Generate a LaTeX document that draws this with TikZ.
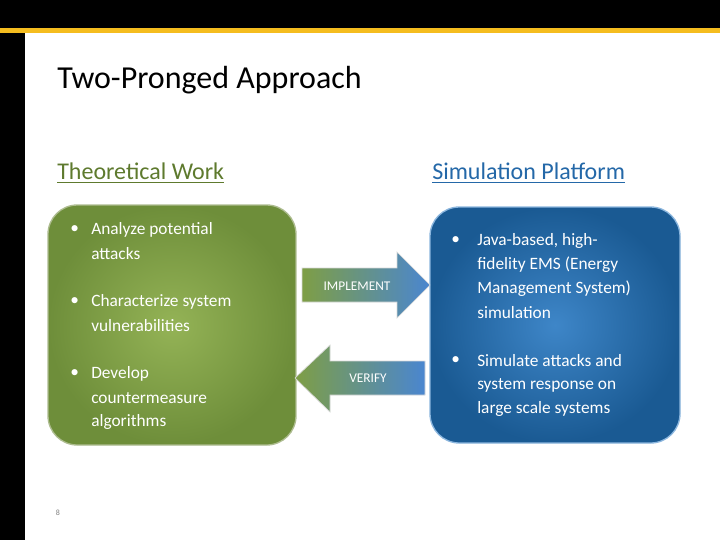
\documentclass[tikz,border=0pt]{standalone}
\usepackage{fontspec}
\setmainfont{Carlito}
\definecolor{gold}{HTML}{F5BD1F}
\definecolor{olive}{HTML}{5E7A2E}
\definecolor{hblue}{HTML}{2468A8}
\definecolor{gA}{HTML}{94B356}
\definecolor{gB}{HTML}{6E8E3A}
\definecolor{bA}{HTML}{3E86C8}
\definecolor{bB}{HTML}{1A5A93}
\definecolor{arA}{HTML}{7E9E45}
\definecolor{arB}{HTML}{4A86D0}
\begin{document}
\begin{tikzpicture}[x=0.75pt,y=-0.75pt,
  txt/.style={anchor=west,inner sep=0pt,font=\fontsize{13}{15}\selectfont,text=white},
  bul/.style={anchor=west,inner sep=0pt,font=\fontsize{13}{15}\selectfont,text=white},
  arrtxt/.style={font=\fontsize{10}{12}\selectfont,text=white,inner sep=0pt},
  head/.style={anchor=west,inner sep=0pt,font=\fontsize{18}{22}\selectfont}]
\useasboundingbox (0,0) rectangle (720,540);
\fill[white] (0,0) rectangle (720,540);
\fill[black] (0,0) rectangle (720,28);
\fill[gold] (0,28) rectangle (720,33);
\fill[black] (0,33) rectangle (25,540);
\node[anchor=west,inner sep=0pt,font=\fontsize{24}{28}\selectfont] (title) at (57,80) {Two-Pronged Approach};
\node[head,text=olive] (th) at (57,173) {\underline{Theoretical Work}};
\node[head,text=hblue] (sp) at (432,173) {\underline{Simulation Platform}};
\shade[draw=gA!80!black!60,line width=1pt,inner color=gA,outer color=gB,rounded corners=22] (48,205) rectangle (296,445);
\shade[draw=bA!60,line width=1pt,inner color=bA,outer color=bB,rounded corners=22] (430,207) rectangle (680,443);
\shade[left color=arA,right color=arB,draw=white!70!gray,line width=0.5pt] (302,268) -- (397,268) -- (397,252) -- (430,285) -- (397,318) -- (397,302) -- (302,302) -- cycle;
\node[arrtxt] (impl) at (357,286) {IMPLEMENT};
\shade[left color=arA,right color=arB,draw=white!70!gray,line width=0.5pt] (425,361) -- (330,361) -- (330,345) -- (295,378) -- (330,412) -- (330,395) -- (425,395) -- cycle;
\node[arrtxt] (ver) at (368,378) {VERIFY};
\foreach \y in {230,302,374} \node[bul] at (70,\y) {•};
\node[txt] (l1) at (91,230) {Analyze potential};
\node[txt] (l1b) at (91,254) {attacks};
\node[txt] (l2) at (91,302) {Characterize system};
\node[txt] (l2b) at (91,326) {vulnerabilities};
\node[txt] (l3) at (91,374) {Develop};
\node[txt] (l3b) at (91,398) {countermeasure};
\node[txt] (l3c) at (91,422) {algorithms};
\foreach \y in {241,361} \node[bul] at (451,\y) {•};
\node[txt] (r1) at (477,241) {Java-based, high-};
\node[txt] (r1b) at (477,265) {fidelity EMS (Energy};
\node[txt] (r1c) at (477,289) {Management System)};
\node[txt] (r1d) at (477,313) {simulation};
\node[txt] (r2) at (477,361) {Simulate attacks and};
\node[txt] (r2b) at (477,385) {system response on};
\node[txt] (r2c) at (477,409) {large scale systems};
\node[inner sep=0pt,font=\fontsize{6}{7}\selectfont,text=gray] (num) at (58,513) {8};
\end{tikzpicture}
\end{document}
